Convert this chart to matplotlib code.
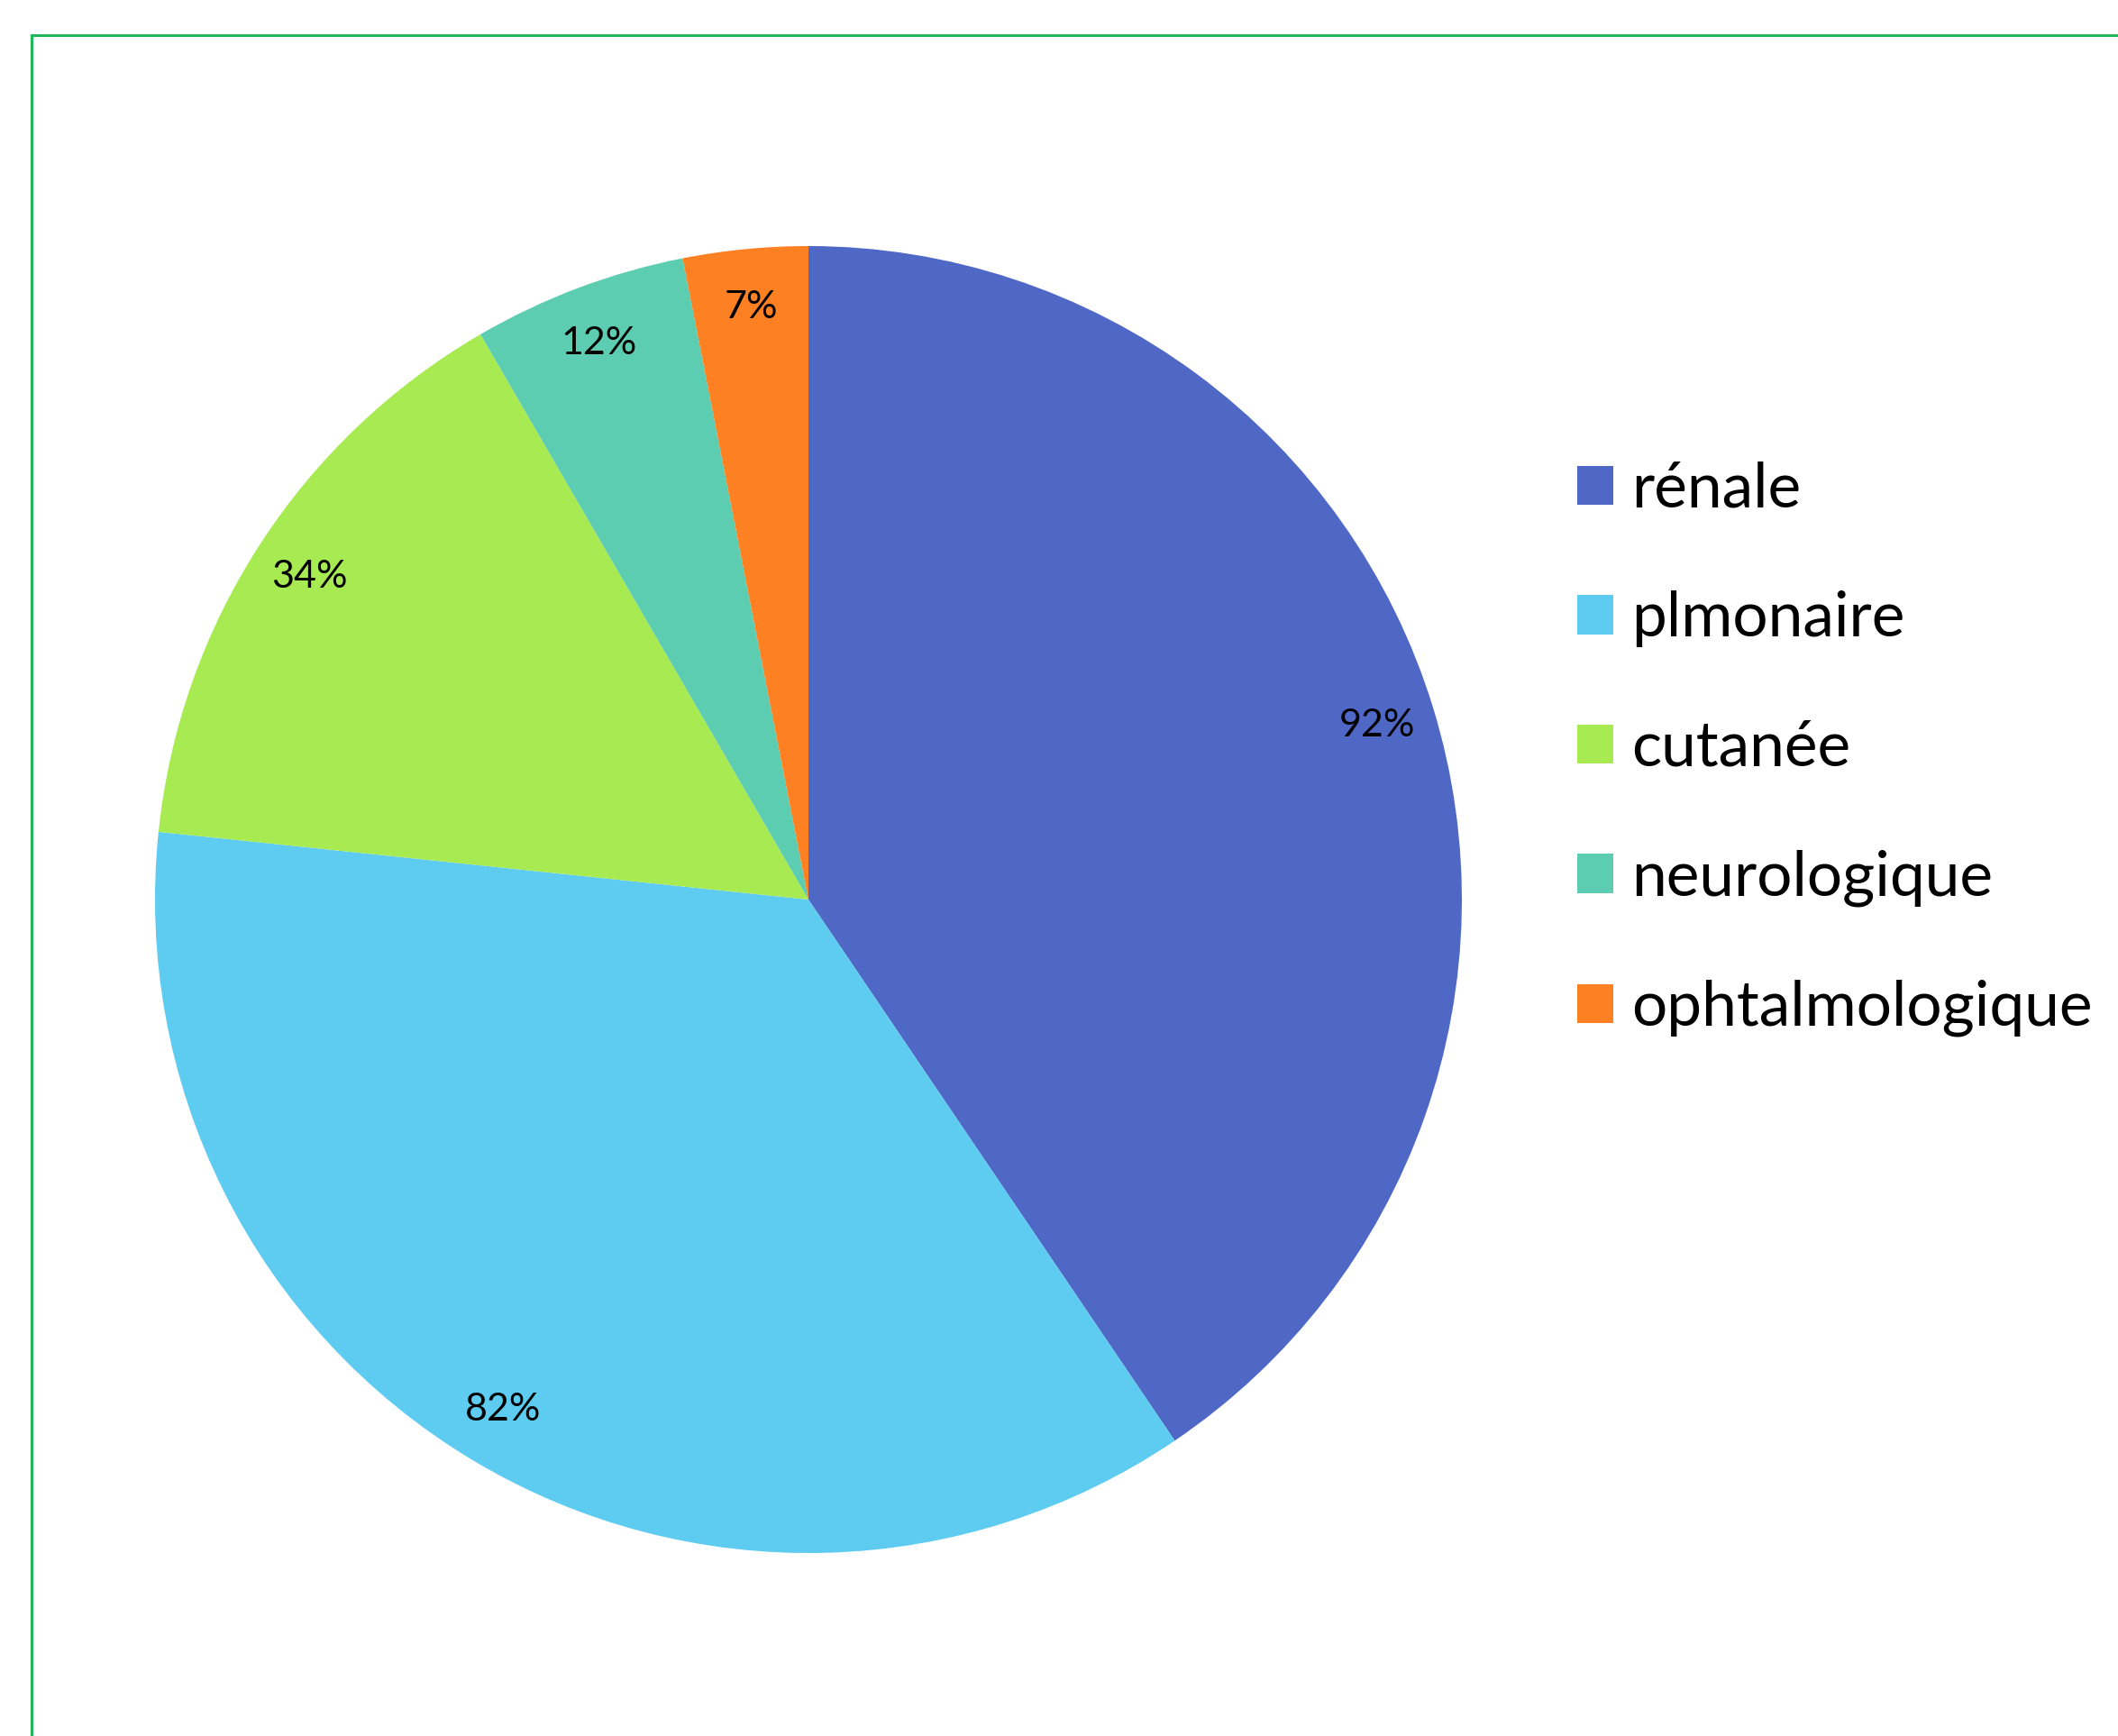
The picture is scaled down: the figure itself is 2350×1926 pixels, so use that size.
import matplotlib
matplotlib.use("Agg")
import matplotlib.pyplot as plt
from matplotlib.lines import Line2D

plt.rcParams['font.family'] = ['Lato', 'DejaVu Sans']

# data
categories = ["rénale", "plmonaire", "cutanée", "neurologique", "ophtalmologique"]
values = [92, 82, 34, 12, 7]
colors = ["#4F68C6", "#5ECBF1", "#A8EA51", "#5DCDB1", "#FD8022"]

total = sum(values)

fig = plt.figure(figsize=(23.5, 19.26), dpi=100)
ax = fig.add_axes([172 / 2350, 203 / 1926, 1450 / 2350, 1450 / 1926])

wedges, texts, autotexts = ax.pie(
    values, colors=colors, startangle=90, counterclock=False,
    autopct=lambda p: "{:.0f}%".format(p * total / 100.0),
    pctdistance=0.91, textprops={'fontsize': 31, 'color': 'black'},
    wedgeprops={'linewidth': 0})
ax.set_xlim(-1, 1)
ax.set_ylim(-1, 1)
ax.set_aspect('equal')

leg = fig.legend(wedges, categories, loc='center left',
                 bbox_to_anchor=(1750 / 2350, (1926 - 831) / 1926),
                 frameon=False, fontsize=50, handlelength=0.58, handleheight=0.58,
                 handletextpad=0.29, labelspacing=1.16, borderpad=0, borderaxespad=0)

# green frame (only top and left edges are visible)
x0 = 34.5 / 2350
y0 = (1926 - 39.5) / 1926
fig.add_artist(Line2D([x0, x0], [0, y0], color="#22B85A", lw=2.2))
fig.add_artist(Line2D([x0, 1], [y0, y0], color="#22B85A", lw=2.2))

plt.savefig("out.png", dpi=100)
